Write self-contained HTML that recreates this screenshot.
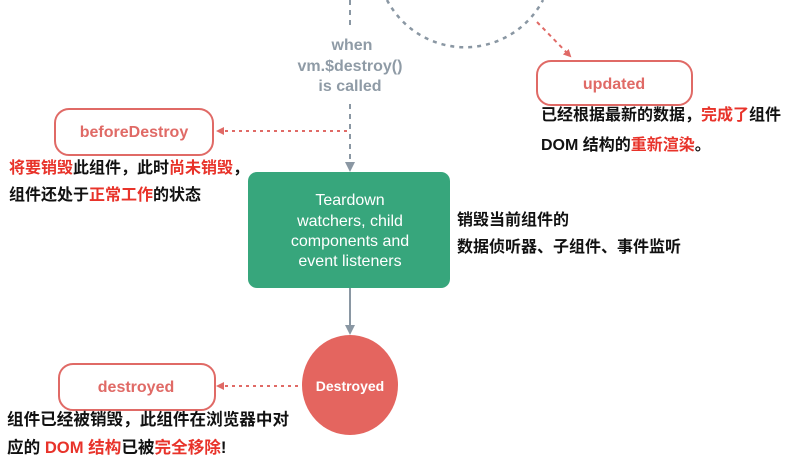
<!DOCTYPE html><html><head><meta charset="utf-8"><style>
body{margin:0;background:#fff;width:793px;height:464px;overflow:hidden;position:relative;font-family:"Liberation Sans","Noto Sans CJK SC",sans-serif}
.t{position:absolute;font-size:16px;font-weight:bold;color:#111;white-space:nowrap;line-height:20px}
.r{color:#e8332a}
</style></head><body>
<svg width="793" height="464" style="position:absolute;left:0;top:0">
<defs>
<marker id="ar" markerWidth="8" markerHeight="8" refX="6" refY="4" orient="auto" markerUnits="userSpaceOnUse"><path d="M0,0L8,4L0,8z" fill="#e06a66"/></marker>
<marker id="ag" markerWidth="10" markerHeight="10" refX="8" refY="5" orient="auto" markerUnits="userSpaceOnUse"><path d="M0,0L10,5L0,10z" fill="#8a97a3"/></marker>
</defs>
<line x1="350" y1="0" x2="350" y2="28" stroke="#8a97a3" stroke-width="2" stroke-dasharray="5,5"/>
<line x1="350" y1="104" x2="350" y2="170" stroke="#8a97a3" stroke-width="2" stroke-dasharray="5,5" marker-end="url(#ag)"/>
<path d="M387,0 A88,88 0 0 0 543,0" fill="none" stroke="#8a97a3" stroke-width="2.5" stroke-dasharray="4,5"/>
<line x1="537" y1="22" x2="570" y2="56" stroke="#e06a66" stroke-width="2" stroke-dasharray="4,4" marker-end="url(#ar)"/>
<rect x="537" y="61" width="155" height="44" rx="14" fill="#fff" stroke="#e06a66" stroke-width="2"/>
<rect x="55" y="109" width="158" height="46" rx="14" fill="#fff" stroke="#e06a66" stroke-width="2"/>
<line x1="347" y1="131" x2="218" y2="131" stroke="#e06a66" stroke-width="2" stroke-dasharray="3,4" marker-end="url(#ar)"/>
<rect x="248" y="172" width="202" height="116" rx="9" fill="#37a67c"/>
<line x1="350" y1="288" x2="350" y2="333" stroke="#8a97a3" stroke-width="2" marker-end="url(#ag)"/>
<ellipse cx="350" cy="385" rx="48" ry="50" fill="#e4655f"/>
<rect x="59" y="364" width="156" height="46" rx="14" fill="#fff" stroke="#e06a66" stroke-width="2"/>
<line x1="298" y1="386" x2="218" y2="386" stroke="#e06a66" stroke-width="2" stroke-dasharray="3,4" marker-end="url(#ar)"/>
<g font-family="Liberation Sans,sans-serif" font-weight="bold" text-anchor="middle">
<text x="352" y="50" fill="#8f9ba6" font-size="16">when</text>
<text x="350" y="71" fill="#8f9ba6" font-size="16">vm.$destroy()</text>
<text x="350" y="91" fill="#8f9ba6" font-size="16">is called</text>
<text x="614" y="89" fill="#e06a66" font-size="16">updated</text>
<text x="134" y="137" fill="#e06a66" font-size="16">beforeDestroy</text>
<text x="136" y="392" fill="#e06a66" font-size="16">destroyed</text>
<text x="350" y="391" fill="#fff" font-size="14">Destroyed</text>
</g>
<g font-family="Liberation Sans,sans-serif" text-anchor="middle" fill="#fff" font-size="16">
<text x="350" y="205">Teardown</text>
<text x="350" y="226">watchers, child</text>
<text x="350" y="246">components and</text>
<text x="350" y="266">event listeners</text>
</g>
</svg>
<div class="t" style="left:541px;top:106px">已经根据最新的数据，<span class="r">完成了</span>组件</div>
<div class="t" style="left:541px;top:136px">DOM 结构的<span class="r">重新渲染</span>。</div>
<div class="t" style="left:9px;top:159px"><span class="r">将要销毁</span>此组件，此时<span class="r">尚未销毁</span>，</div>
<div class="t" style="left:9px;top:186px">组件还处于<span class="r">正常工作</span>的状态</div>
<div class="t" style="left:457px;top:211px">销毁当前组件的</div>
<div class="t" style="left:457px;top:238px">数据侦听器、子组件、事件监听</div>
<div class="t" style="left:7px;top:410px;font-size:16.6px">组件已经被销毁，此组件在浏览器中对</div>
<div class="t" style="left:7px;top:438px;font-size:16.6px">应的 <span class="r">DOM 结构</span>已被<span class="r">完全移除</span>!</div>
</body></html>
